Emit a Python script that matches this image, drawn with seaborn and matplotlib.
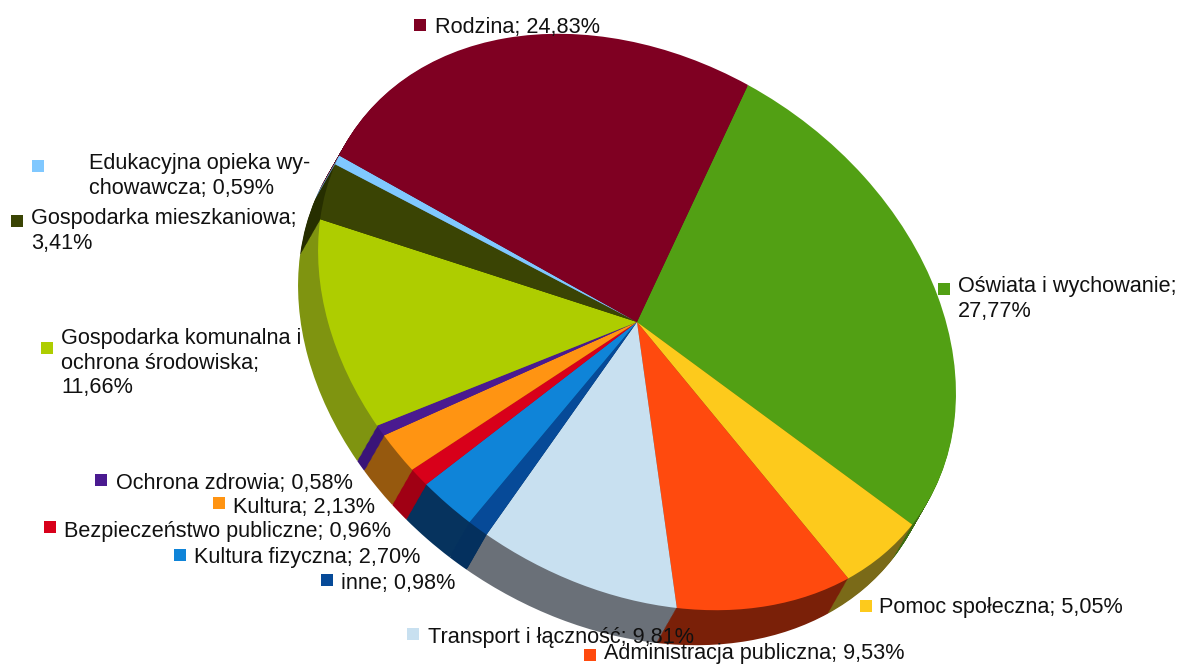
"""Budget structure pie, tilted like the original 3D chart."""
import numpy as np
import matplotlib
matplotlib.use('Agg')
import matplotlib.pyplot as plt
from matplotlib.transforms import Affine2D
import seaborn as sns

# clockwise, starting at the Rodzina / Oswiata boundary
categories = ['Oświata i wychowanie', 'Pomoc społeczna', 'Administracja publiczna',
              'Transport i łączność', 'inne', 'Kultura fizyczna',
              'Bezpieczeństwo publiczne', 'Kultura', 'Ochrona zdrowia',
              'Gospodarka komunalna i ochrona środowiska', 'Gospodarka mieszkaniowa',
              'Edukacyjna opieka wychowawcza', 'Rodzina']
shares = [27.77, 5.05, 9.53, 9.81, 0.98, 2.70, 0.96, 2.13, 0.58, 11.66, 3.41, 0.59, 24.83]

top_colors = ['#52a014', '#fdca1c', '#ff4a0e', '#c8e0f0', '#064a98', '#0f84d8', '#d8001a',
              '#ff9412', '#4a1a90', '#aecd00', '#3a4404', '#80c8ff', '#7f0022']
side_colors = ['#3c6c10', '#7a6a18', '#7a2008', '#6a7078', '#04305e', '#06335e', '#a00014',
               '#96590e', '#3a1478', '#7f9410', '#262e00', '#5a80a0', '#5a0018']

label_texts = ['Oświata i wychowanie;\n27,77%', 'Pomoc społeczna; 5,05%',
               'Administracja publiczna; 9,53%', 'Transport i łączność; 9,81%',
               'inne; 0,98%', 'Kultura fizyczna; 2,70%', 'Bezpieczeństwo publiczne; 0,96%',
               'Kultura; 2,13%', 'Ochrona zdrowia; 0,58%',
               'Gospodarka komunalna i\nochrona środowiska;\n11,66%',
               'Gospodarka mieszkaniowa;\n3,41%', 'Edukacyjna opieka wy-\nchowawcza; 0,59%',
               'Rodzina; 24,83%']
# text anchor (left, vertical centre) and key square, in pixels
label_x = [958, 879, 604, 428, 341, 194, 64, 233, 116, 61, 31, 89, 435]
label_y = [299, 608, 654, 638, 584, 558, 531, 507, 484, 363, 231, 176, 28]
key_x = [944, 866, 590, 413, 327, 180, 50, 219, 101, 47, 17, 38, 420]
key_y = [289, 606, 655, 634, 580, 555, 527, 503, 480, 348, 221, 166, 25]

sns.set_style('white')
plt.rcParams['font.family'] = ['Liberation Sans', 'DejaVu Sans']

fig = plt.figure(figsize=(11.81, 6.66), dpi=100)
ax = fig.add_axes([0, 0, 1, 1])


def draw_pie(colors, dx=0, dy=0):
    wedges, _ = ax.pie(shares, colors=colors, startangle=90, counterclock=False,
                       wedgeprops={'linewidth': 0})
    # unit circle -> tilted ellipse in pixel space
    tilt = Affine2D(np.array([[299, 111, 637 + dx], [164, -237, 322 + dy], [0, 0, 1]]))
    for w in wedges:
        w.set_transform(tilt + ax.transData)


# side wall: stacked copies, far to near
for step in np.linspace(1, 0.03, 30):
    draw_pie(side_colors, -20 * step, 35 * step)
draw_pie(top_colors)

ax.set_aspect('auto')
ax.set_xlim(0, 1181)
ax.set_ylim(666, 0)
ax.axis('off')

ax.scatter(key_x, key_y, c=top_colors, marker='s', s=81, linewidths=0, zorder=5)
for text, x, y in zip(label_texts, label_x, label_y):
    ax.text(x, y, text, ha='left', va='center', fontsize=15.6, color='#111111',
            linespacing=1.23, zorder=6)

fig.savefig('out.png', dpi=100)
